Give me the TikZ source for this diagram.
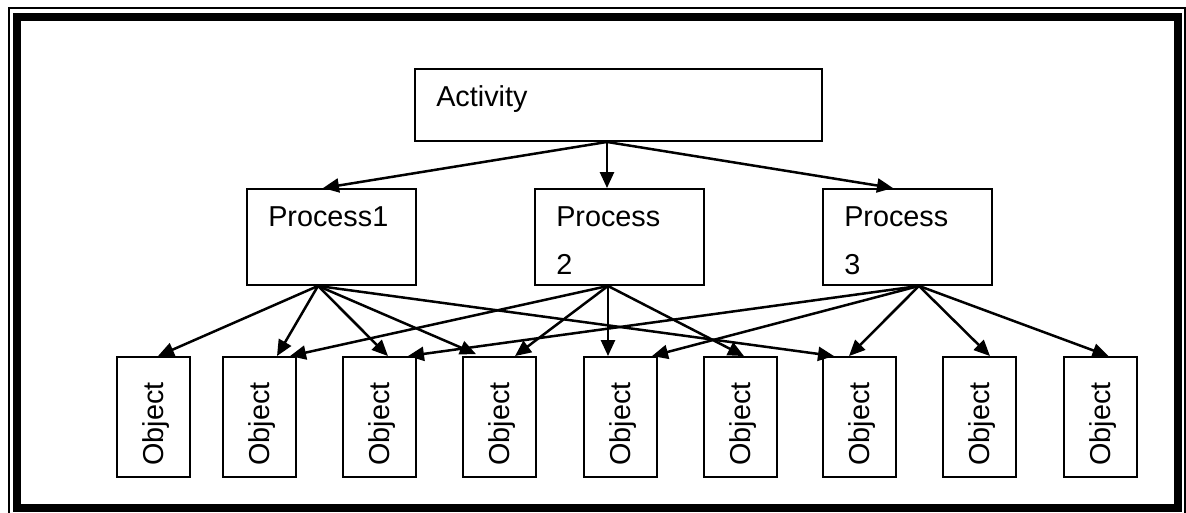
\documentclass[tikz,border=0pt]{standalone}
\usepackage{fontspec}
\setmainfont{Liberation Sans}
\usetikzlibrary{arrows.meta}
\begin{document}
\begin{tikzpicture}[x=1pt,y=-1pt,
  box/.style={draw, line width=1.9pt, rectangle, inner sep=0pt},
  txt/.style={inner sep=0pt, font=\fontsize{28.8}{34}\selectfont},
  arr/.style={line width=2.5pt, -{Triangle[length=16pt,width=14pt]}}]
\useasboundingbox (0,0) rectangle (1186,512);
\clip (0,0) rectangle (1186,512);

% page frame: thin outer rule and heavy inner rule
\draw[line width=1.8pt] (9,8) rectangle (1185,530);
\draw[line width=8pt] (17,17) rectangle (1178,508);

% activity
\node[box, minimum width=407pt, minimum height=72pt] (act) at (618.5,105) {};
\node[txt, anchor=base west] (actT) at ([xshift=22pt,yshift=-38pt]act.north west) {Activity};

% processes
\node[box, minimum width=169pt, minimum height=96pt] (p1) at (331.5,237) {};
\node[box, minimum width=169pt, minimum height=96pt] (p2) at (619.5,237) {};
\node[box, minimum width=169pt, minimum height=96pt] (p3) at (907.5,237) {};
\node[txt, anchor=base west] (p1T) at ([xshift=22pt,yshift=-38pt]p1.north west) {Process1};
\node[txt, anchor=base west] (p2T) at ([xshift=22pt,yshift=-38pt]p2.north west) {Process};
\node[txt, anchor=base west] (p2N) at ([xshift=22pt,yshift=-86pt]p2.north west) {2};
\node[txt, anchor=base west] (p3T) at ([xshift=22pt,yshift=-38pt]p3.north west) {Process};
\node[txt, anchor=base west] (p3N) at ([xshift=22pt,yshift=-86pt]p3.north west) {3};

% objects
\foreach \i/\l in {1/117,2/223,3/343,4/463,5/584,6/704,7/823,8/943,9/1064}{
  \node[box, minimum width=73pt, minimum height=120pt] (o\i) at (\l+36.5,417) {};
  \node[txt, rotate=90] (o\i t) at ([xshift=3pt,yshift=-7pt]o\i.center) {Object};
}

% activity to processes
\draw[arr] ([xshift=-11.5pt]act.south) -- ([xshift=-8.5pt]p1.north);
\draw[arr] ([xshift=-11.5pt]act.south) -- ([xshift=-12.5pt]p2.north);
\draw[arr] ([xshift=-11.5pt]act.south) -- ([xshift=-14.5pt]p3.north);

% process 1 to objects
\draw[arr] ([xshift=-13.5pt]p1.south) -- ([xshift=4.5pt]o1.north);
\draw[arr] ([xshift=-13.5pt]p1.south) -- ([xshift=17.5pt]o2.north);
\draw[arr] ([xshift=-13.5pt]p1.south) -- ([xshift=8.5pt]o3.north);
\draw[arr] ([xshift=-13.5pt]p1.south) -- ([xshift=-23.5pt,yshift=2pt]o4.north);
\draw[arr] ([xshift=-13.5pt]p1.south) -- ([xshift=-25.5pt]o7.north);

% process 2 to objects
\draw[arr] ([xshift=-11.5pt]p2.south) -- ([xshift=30.5pt]o2.north);
\draw[arr] ([xshift=-11.5pt]p2.south) -- ([xshift=15.5pt]o4.north);
\draw[arr] ([xshift=-11.5pt]p2.south) -- ([xshift=-12.5pt]o5.north);
\draw[arr] ([xshift=-11.5pt]p2.south) -- ([xshift=3.5pt]o6.north);

% process 3 to objects
\draw[arr] ([xshift=11.5pt]p3.south) -- ([xshift=28.5pt]o3.north);
\draw[arr] ([xshift=11.5pt]p3.south) -- ([xshift=31.5pt]o5.north);
\draw[arr] ([xshift=11.5pt]p3.south) -- ([xshift=-10.5pt]o7.north);
\draw[arr] ([xshift=11.5pt]p3.south) -- ([xshift=10.5pt]o8.north);
\draw[arr] ([xshift=11.5pt]p3.south) -- ([xshift=8pt]o9.north);
\end{tikzpicture}
\end{document}
